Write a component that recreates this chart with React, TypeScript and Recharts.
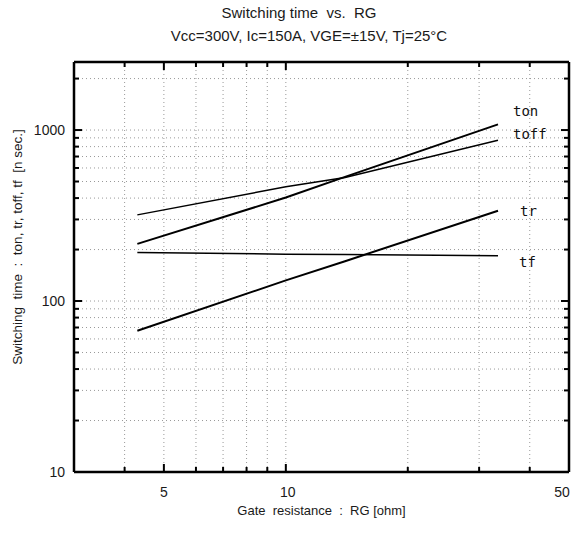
import React from 'react';
import { LineChart, Line, XAxis, YAxis, CartesianGrid, LabelList, ReferenceLine } from 'recharts';

// gate resistance [ohm] and switching times [ns]
const rg = [4.3, 10, 14, 33.4];
const ton = [216, 403, 532, 1080];
const toff = [319, 466, 528, 871];
const tr = [67, 132, 171, 337];
const tf = [192, 188, 187, 184];

const xDomain = [3, 50];
const yDomain = [10, 2500];
const xTicks = [3, 4, 5, 6, 7, 8, 9, 10, 20, 30, 40, 50];
const xLabels = [5, 10, 50];
const yTicks = [10, 20, 30, 40, 50, 60, 70, 80, 90, 100, 200, 300, 400, 500, 600, 700, 800, 900, 1000, 2000];
const yLabels = [10, 100, 1000];

const data = rg.map((r, i) => ({ rg: r, ton: ton[i], toff: toff[i], tr: tr[i], tf: tf[i] }));

const font = '"Liberation Sans", Arial, sans-serif';
const ink = '#1a1a1a';
const sp = '\u00a0';

const tickLen = (v: number, majors: number[]) => (majors.includes(v) || v === 10 ? 8 : 5);

const BottomTick = (props: any) => {
  const { x, y, payload } = props;
  const v = payload.value;
  return (
    <g>
      <path d={`M${x},${y}V${y - tickLen(v, xLabels)}`} stroke="#000" strokeWidth={2} fill="none" />
      {xLabels.includes(v) && (
        <text x={v === 50 ? x - 7 : x + (v === 10 ? 2 : 0)} y={y + 25} textAnchor="middle" fontSize={14} fontFamily={font} fill={ink}>
          {v}
        </text>
      )}
    </g>
  );
};

const TopTick = (props: any) => {
  const { x, y, payload } = props;
  return <path d={`M${x},${y}V${y + tickLen(payload.value, xLabels)}`} stroke="#000" strokeWidth={2} fill="none" />;
};

const LeftTick = (props: any) => {
  const { x, y, payload } = props;
  const v = payload.value;
  return (
    <g>
      <path d={`M${x},${y}H${x + tickLen(v, yLabels)}`} stroke="#000" strokeWidth={2} fill="none" />
      {yLabels.includes(v) && (
        <text x={x - 9} y={y + 5} textAnchor="end" fontSize={14} fontFamily={font} fill={ink}>
          {v}
        </text>
      )}
    </g>
  );
};

const RightTick = (props: any) => {
  const { x, y, payload } = props;
  return <path d={`M${x},${y}H${x - tickLen(payload.value, yLabels)}`} stroke="#000" strokeWidth={2} fill="none" />;
};

const endLabel = (text: string, dx: number, dy: number) => (props: any) => {
  const { x, y, index } = props;
  if (index !== rg.length - 1) return null;
  return (
    <text x={x + dx} y={y + dy} fontSize={14} fontFamily='"DejaVu Sans Mono", monospace' fill="#111">
      {text}
    </text>
  );
};

const App = () => {
  return (
    <div style={{ position: 'absolute', left: 0, top: 0, width: 575, height: 533, background: '#fff' }}>
      <div style={{ position: 'absolute', left: 149, width: 300, top: 4, lineHeight: '18px', textAlign: 'center', fontSize: 15, fontFamily: font, color: ink, whiteSpace: 'pre' }}>
        {'Switching time  vs.  RG'}
      </div>
      <div style={{ position: 'absolute', left: 159, width: 300, top: 27, lineHeight: '18px', textAlign: 'center', fontSize: 15, fontFamily: font, color: ink }}>
        Vcc=300V, Ic=150A, VGE=±15V, Tj=25°C
      </div>
      <LineChart width={575} height={533} data={data} margin={{ top: 61, right: 5, bottom: 0, left: 0 }}>
        <CartesianGrid stroke="#999" strokeDasharray="1 3" strokeWidth={1} />
        <XAxis
          dataKey="rg"
          type="number"
          scale="log"
          domain={xDomain}
          allowDataOverflow
          ticks={xTicks}
          interval={0}
          height={61}
          tickSize={0}
          tickMargin={0}
          tickLine={false}
          axisLine={false}
          tick={<BottomTick />}
          label={{
            value: `Gate${sp}${sp}resistance${sp}${sp}:${sp}${sp}RG [ohm]`,
            position: 'center',
            dy: 8,
            fontSize: 13,
            fontFamily: font,
            fill: ink,
          }}
        />
        <XAxis
          xAxisId="top"
          orientation="top"
          dataKey="rg"
          type="number"
          scale="log"
          domain={xDomain}
          allowDataOverflow
          ticks={xTicks}
          interval={0}
          height={1}
          tickSize={0}
          tickMargin={0}
          tickLine={false}
          axisLine={false}
          tick={<TopTick />}
        />
        <YAxis
          type="number"
          scale="log"
          domain={yDomain}
          allowDataOverflow
          ticks={yTicks}
          interval={0}
          width={74}
          tickSize={0}
          tickMargin={0}
          tickLine={false}
          axisLine={false}
          tick={<LeftTick />}
          label={{
            value: `Switching${sp}${sp}time${sp}${sp}:${sp}${sp}ton, tr, toff, tf${sp}${sp}[n sec.]`,
            angle: -90,
            position: 'center',
            dx: -20,
            dy: -20,
            fontSize: 13.5,
            fontFamily: font,
            fill: ink,
          }}
        />
        <YAxis
          yAxisId="right"
          orientation="right"
          type="number"
          scale="log"
          domain={yDomain}
          allowDataOverflow
          ticks={yTicks}
          interval={0}
          width={1}
          tickSize={0}
          tickMargin={0}
          tickLine={false}
          axisLine={false}
          tick={<RightTick />}
        />
        {/* plot frame */}
        <ReferenceLine x={xDomain[0]} stroke="#000" strokeWidth={2.5} />
        <ReferenceLine x={xDomain[1]} stroke="#000" strokeWidth={2.5} />
        <ReferenceLine y={yDomain[0]} stroke="#000" strokeWidth={2.5} />
        <ReferenceLine y={yDomain[1]} stroke="#000" strokeWidth={2.5} />
        <Line dataKey="ton" stroke="#000" strokeWidth={2} dot={false} isAnimationActive={false}>
          <LabelList dataKey="ton" content={endLabel('ton', 15, -8)} />
        </Line>
        <Line dataKey="toff" stroke="#000" strokeWidth={1.5} dot={false} isAnimationActive={false}>
          <LabelList dataKey="toff" content={endLabel('toff', 15, -1)} />
        </Line>
        <Line dataKey="tr" stroke="#000" strokeWidth={2} dot={false} isAnimationActive={false}>
          <LabelList dataKey="tr" content={endLabel('tr', 22, 5)} />
        </Line>
        <Line dataKey="tf" stroke="#000" strokeWidth={1.5} dot={false} isAnimationActive={false}>
          <LabelList dataKey="tf" content={endLabel('tf', 21, 11)} />
        </Line>
      </LineChart>
    </div>
  );
};

export default App;
